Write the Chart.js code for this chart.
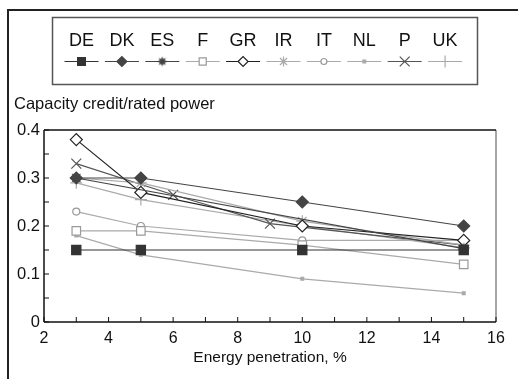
<!DOCTYPE html>
<html>
<head>
<meta charset="utf-8">
<script src="https://cdn.jsdelivr.net/npm/chart.js@4.4.0/dist/chart.umd.min.js"></script>
<style>
html, body { margin: 0; padding: 0; background: #fff; }
#wrap { position: relative; width: 518px; height: 379px; overflow: hidden; }
#frame { position: absolute; left: 7px; top: 9px; width: 600px; height: 500px; border: 2px solid #222; }
canvas { position: absolute; left: 0; top: 0; }
</style>
</head>
<body>
<div id="wrap">
  <div id="frame"></div>
  <canvas id="myChart" width="518" height="379"></canvas>
</div>
<script>
// data: [penetration %, capacity credit]
const countries = ['DE', 'DK', 'ES', 'F', 'GR', 'IR', 'IT', 'NL', 'P', 'UK'];
const DE = [[3, 0.15], [5, 0.15], [10, 0.15], [15, 0.15]];
const DK = [[3, 0.30], [5, 0.30], [10, 0.25], [15, 0.20]];
const ES = [[3, 0.30], [15, 0.153]];
const F  = [[3, 0.19], [5, 0.19], [10, 0.16], [15, 0.12]];
const GR = [[3, 0.38], [5, 0.27], [10, 0.20], [15, 0.17]];
const IR = [[3, 0.30], [5, 0.29], [10, 0.21], [15, 0.16]];
const IT = [[3, 0.23], [5, 0.20], [10, 0.17], [15, 0.17]];
const NL = [[3, 0.18], [5, 0.14], [10, 0.09], [15, 0.06]];
const P  = [[3, 0.33], [6, 0.265], [9, 0.205], [15, 0.16]];
const UK = [[3, 0.29], [5, 0.255], [10, 0.20], [15, 0.155]];
const xTicks = [2, 4, 6, 8, 10, 12, 14, 16];
const yTicks = [0, 0.1, 0.2, 0.3, 0.4];

const FONT = '"Liberation Sans", Arial, sans-serif';

// filled 8 point star for ES
function starCanvas(r, col) {
    var c = document.createElement('canvas');
    c.width = c.height = r * 2 + 2;
    var g = c.getContext('2d');
    g.fillStyle = col;
    g.beginPath();
    for (var i = 0; i < 16; i++) {
        var ang = i * Math.PI / 8;
        var rr = i % 2 ? r * 0.55 : r;
        g.lineTo(r + 1 + rr * Math.cos(ang), r + 1 + rr * Math.sin(ang));
    }
    g.closePath();
    g.fill();
    return c;
}

const styles = {
    DE: { line: '#333', fill: '#333', border: '#333', point: 'rect', r: 6.5, lr: 5.5 },
    DK: { line: '#444', fill: '#444', border: '#444', point: 'rectRot', r: 6, lr: 5 },
    ES: { line: '#444', fill: '#444', border: '#444', point: starCanvas(6, '#444'), legPoint: starCanvas(5, '#444'), r: 6, lr: 5 },
    F:  { line: '#aaa', fill: '#fff', border: '#999', point: 'rect', r: 6, lr: 5 },
    GR: { line: '#222', fill: '#fff', border: '#222', point: 'rectRot', r: 6, lr: 5 },
    IR: { line: '#aaa', fill: '#aaa', border: '#aaa', point: 'star', r: 6, lr: 5 },
    IT: { line: '#aaa', fill: '#fff', border: '#999', point: 'circle', r: 3.5, lr: 3 },
    NL: { line: '#aaa', fill: '#aaa', border: '#aaa', point: 'rect', r: 2, lr: 2 },
    P:  { line: '#555', fill: '#555', border: '#555', point: 'crossRot', r: 7, lr: 7 },
    UK: { line: '#aaa', fill: '#aaa', border: '#aaa', point: 'cross', r: 6, lr: 6 }
};
const seriesData = { DE: DE, DK: DK, ES: ES, F: F, GR: GR, IR: IR, IT: IT, NL: NL, P: P, UK: UK };

var dataSets = [];
for (var i = 0; i < countries.length; i++) {
    var c = countries[i], s = styles[c];
    dataSets.push({
        label: c,
        data: seriesData[c].map(function (p) { return { x: p[0], y: p[1] }; }),
        borderColor: s.line,
        borderWidth: 1.2,
        pointStyle: s.point,
        pointRadius: s.r,
        pointBackgroundColor: s.fill,
        pointBorderColor: s.border,
        pointBorderWidth: 1.2,
        fill: false,
        tension: 0
    });
}

function line(ctx, x1, y1, x2, y2) {
    ctx.beginPath();
    ctx.moveTo(x1, y1);
    ctx.lineTo(x2, y2);
    ctx.stroke();
}

const decor = {
    id: 'decor',
    afterDraw: function (chart) {
        var ctx = chart.ctx, a = chart.chartArea;
        var xs = chart.scales.x, ys = chart.scales.y;
        ctx.save();
        // plot frame
        ctx.lineWidth = 1.5;
        ctx.strokeStyle = '#888';
        line(ctx, a.right, a.top, a.right, a.bottom);
        ctx.strokeStyle = '#111';
        line(ctx, a.left, a.top, a.right, a.top);
        line(ctx, a.left, a.top, a.left, a.bottom);
        line(ctx, a.left, a.bottom, a.right, a.bottom);
        // inside ticks
        ctx.lineWidth = 1;
        for (var v = 2; v <= 16; v++) {
            var x = xs.getPixelForValue(v);
            line(ctx, x, a.bottom, x, a.bottom - 5);
        }
        for (var k = 0; k <= 8; k++) {
            var y = ys.getPixelForValue(k * 0.05);
            line(ctx, a.left, y, a.left + 5, y);
        }
        // y axis title
        ctx.fillStyle = '#111';
        ctx.font = '16.5px ' + FONT;
        ctx.textBaseline = 'middle';
        ctx.textAlign = 'left';
        ctx.fillText('Capacity credit/rated power', 14, 104);
        // legend box
        ctx.strokeStyle = '#555';
        ctx.lineWidth = 1.5;
        ctx.strokeRect(52.5, 17.5, 425, 67);
        ctx.font = '18px ' + FONT;
        ctx.textAlign = 'center';
        for (var i = 0; i < countries.length; i++) {
            var c = countries[i], s = styles[c];
            var cx = 81.5 + i * 40.4;
            ctx.fillStyle = '#111';
            ctx.fillText(c, cx, 41.5);
            ctx.strokeStyle = s.line;
            ctx.lineWidth = 1.2;
            line(ctx, cx - 17, 61.5, cx + 17, 61.5);
            ctx.fillStyle = s.fill;
            ctx.strokeStyle = s.border;
            var ps = s.legPoint || s.point;
            if (Chart.helpers && Chart.helpers.drawPoint) {
                Chart.helpers.drawPoint(ctx, { pointStyle: ps, radius: s.lr, rotation: 0, borderWidth: 1.2 }, cx, 61.5);
            }
        }
        ctx.restore();
    }
};

var ctx = document.getElementById('myChart');
var chart = new Chart(ctx, {
    type: 'line',
    data: { datasets: dataSets },
    options: {
        responsive: false,
        animation: false,
        devicePixelRatio: 1,
        layout: { padding: { left: 0, top: 130, right: 22, bottom: 0 } },
        plugins: { legend: { display: false }, tooltip: { enabled: false } },
        scales: {
            x: {
                type: 'linear', min: 2, max: 16,
                afterFit: function (scale) { scale.height = 57; },
                afterBuildTicks: function (scale) { scale.ticks = xTicks.map(function (v) { return { value: v }; }); },
                grid: { display: false, drawTicks: false },
                border: { display: false },
                ticks: { color: '#111', font: { family: FONT, size: 16 }, padding: 7, maxRotation: 0 },
                title: { display: true, text: 'Energy penetration, %', color: '#111', font: { family: FONT, size: 15.5 }, padding: { top: 0, bottom: 12 } }
            },
            y: {
                type: 'linear', min: 0, max: 0.4,
                afterFit: function (scale) { scale.width = 44; },
                afterBuildTicks: function (scale) { scale.ticks = yTicks.map(function (v) { return { value: v }; }); },
                grid: { display: false, drawTicks: false },
                border: { display: false },
                ticks: { color: '#111', font: { family: FONT, size: 16.5 }, padding: 4,
                    callback: function (v) { return String(Math.round(v * 10) / 10); } }
            }
        }
    },
    plugins: [decor]
});
</script>
</body>
</html>
